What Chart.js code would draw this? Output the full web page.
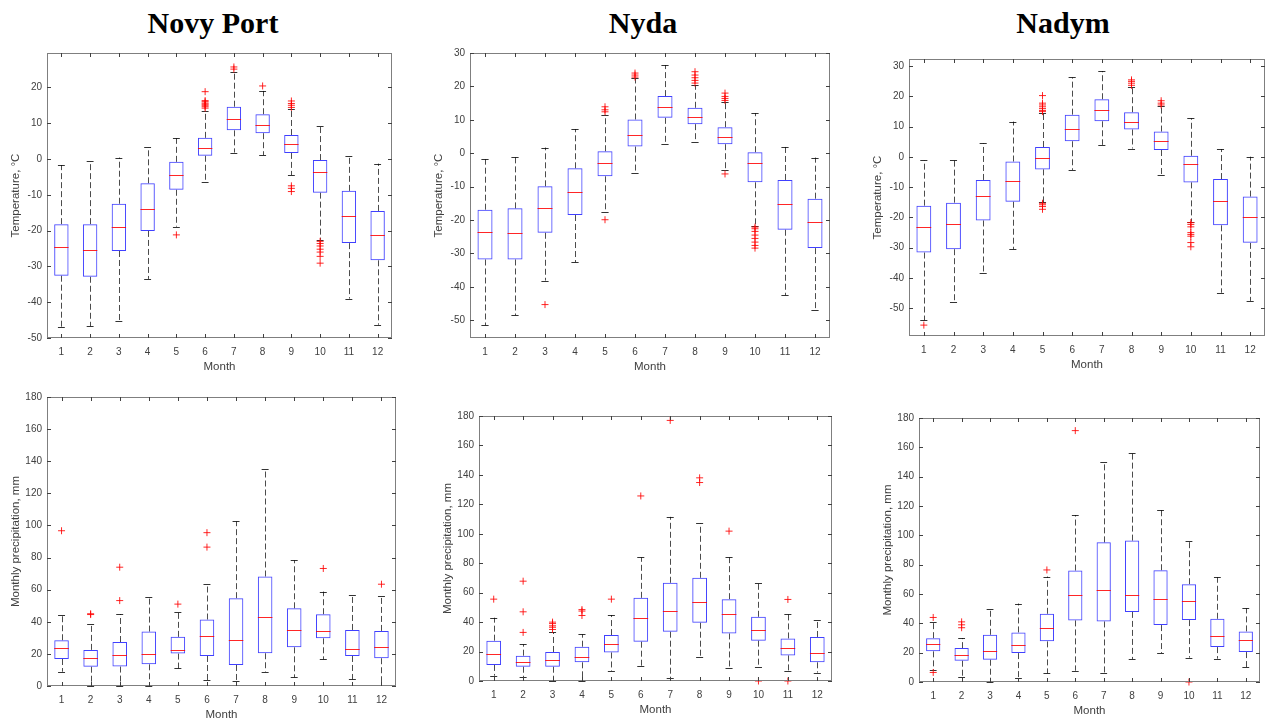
<!DOCTYPE html>
<html>
<head>
<meta charset="utf-8">
<script src="https://cdn.jsdelivr.net/npm/chart.js@4.4.1/dist/chart.umd.min.js"></script>
<style>
    body { margin: 0; background: #fff; width: 1267px; height: 722px; position: relative; overflow: hidden; }
    .titulo { position: absolute; width: 300px; text-align: center; font-family: 'Liberation Serif', 'Times New Roman', serif; font-weight: bold; font-size: 30px; line-height: 34px; color: #000; }
    canvas { position: absolute; }
</style>
</head>
<body>
<div class="titulo" style="left:63px; top:6px;">Novy Port</div>
<div class="titulo" style="left:493px; top:6px;">Nyda</div>
<div class="titulo" style="left:913px; top:6px;">Nadym</div>

<script>
const meses = [1, 2, 3, 4, 5, 6, 7, 8, 9, 10, 11, 12];
const ticksTempNP = [-50, -40, -30, -20, -10, 0, 10, 20];
const ticksTemp = [-50, -40, -30, -20, -10, 0, 10, 20, 30];
const ticksPrec = [0, 20, 40, 60, 80, 100, 120, 140, 160, 180];

// Novy Port - temperatura
const npTempMin = [-47.0, -46.7, -45.2, -33.5, -18.9, -6.3, 1.8, 1.1, -4.5, -22.6, -39.0, -46.3];
const npTempQ1  = [-32.6, -32.9, -25.7, -20.1, -8.6, 0.9, 8.0, 7.2, 1.7, -9.4, -23.5, -28.3];
const npTempMed = [-24.7, -25.5, -18.9, -13.9, -4.5, 3.0, 11.2, 9.5, 4.2, -3.7, -15.9, -21.2];
const npTempQ3  = [-18.2, -18.2, -12.5, -6.8, -0.8, 5.9, 14.6, 12.5, 6.7, -0.3, -8.9, -14.5];
const npTempMax = [-1.7, -0.6, 0.4, 3.3, 5.8, 13.5, 24.3, 19.0, 14.0, 9.1, 0.9, -1.3];
const npTempAtip = [[5, -21.2], [6, 14.2], [6, 14.6], [6, 15.0], [6, 15.3], [6, 15.6], [6, 16.0], [6, 16.3], [6, 18.8],
    [7, 25.1], [7, 25.7], [8, 20.4], [9, 14.4], [9, 15.0], [9, 15.5], [9, 16.2], [9, -7.5], [9, -8.2], [9, -9.1],
    [10, -23.0], [10, -23.6], [10, -24.3], [10, -25.2], [10, -26.0], [10, -27.2], [10, -29.1]];

// Nyda - temperatura
const nyTempMin = [-51.5, -48.5, -38.1, -32.6, -17.6, -6.0, 2.7, 3.4, -5.0, -21.9, -42.5, -47.0];
const nyTempQ1  = [-31.8, -31.8, -23.8, -18.5, -6.9, 2.0, 10.6, 8.7, 2.7, -8.7, -22.9, -28.4];
const nyTempMed = [-23.6, -23.9, -16.4, -11.5, -2.8, 5.5, 13.9, 10.9, 5.0, -2.8, -15.1, -20.7];
const nyTempQ3  = [-16.9, -16.5, -9.9, -4.5, 0.6, 10.1, 17.1, 13.6, 7.8, 0.3, -8.0, -13.6];
const nyTempMax = [-1.8, -1.0, 1.7, 7.2, 11.5, 22.4, 26.4, 20.4, 15.4, 12.0, 2.0, -1.3];
const nyTempAtip = [[3, -45.3], [5, -19.9], [5, 12.4], [5, 13.0], [5, 13.9], [6, 22.8], [6, 23.4], [6, 24.0],
    [8, 21.0], [8, 21.8], [8, 22.6], [8, 23.4], [8, 24.4], [9, -6.2], [9, 15.8], [9, 16.4], [9, 17.0], [9, 18.0],
    [10, -22.1], [10, -22.6], [10, -23.4], [10, -24.5], [10, -25.5], [10, -26.6], [10, -27.6], [10, -28.4]];

// Nadym - temperatura
const naTempMin = [-54.0, -47.9, -38.5, -30.5, -15.0, -4.3, 4.0, 2.8, -5.8, -21.4, -44.9, -47.6];
const naTempQ1  = [-31.6, -30.5, -21.0, -14.8, -4.1, 5.2, 11.8, 9.1, 2.3, -8.4, -22.6, -28.4];
const naTempMed = [-23.1, -22.2, -12.9, -7.8, -0.4, 9.3, 15.6, 11.6, 5.4, -2.4, -14.6, -20.0];
const naTempQ3  = [-16.1, -15.1, -7.6, -1.5, 3.3, 14.0, 19.1, 14.8, 8.4, 0.4, -7.3, -13.1];
const naTempMax = [-1.1, -1.1, 4.5, 11.7, 14.5, 26.3, 28.4, 23.1, 16.9, 12.8, 2.6, 0.1];
const naTempAtip = [[1, -55.6], [5, -15.3], [5, -15.8], [5, -16.4], [5, -17.3], [5, 15.0], [5, 15.4], [5, 16.0],
    [5, 16.6], [5, 17.2], [5, 17.8], [5, 20.3], [8, 23.7], [8, 24.4], [8, 25.0], [8, 25.5], [9, 17.2], [9, 17.8],
    [9, 18.6], [10, -21.7], [10, -22.3], [10, -23.1], [10, -25.0], [10, -25.6], [10, -26.2], [10, -28.3], [10, -29.7]];

// Novy Port - precipitacion
const npPrecMin = [8.9, 0, 0, 0, 11.0, 3.7, 3.3, 8.9, 5.4, 16.6, 4.2, 0.6];
const npPrecQ1  = [16.8, 12.0, 12.1, 13.5, 20.2, 18.7, 13.1, 20.4, 24.1, 29.7, 18.7, 17.3];
const npPrecMed = [23.9, 17.5, 19.1, 19.8, 22.7, 31.2, 28.7, 42.8, 34.9, 34.5, 22.9, 24.5];
const npPrecQ3  = [28.5, 22.5, 27.4, 33.9, 30.6, 41.4, 54.7, 68.2, 48.4, 44.7, 34.9, 34.3];
const npPrecMax = [44.3, 38.9, 44.7, 55.5, 46.4, 63.4, 102.5, 135.3, 78.2, 58.8, 56.8, 56.1];
const npPrecAtip = [[1, 96.7], [2, 44.5], [2, 45.0], [3, 53.2], [3, 74.0], [5, 51.0], [6, 86.5], [6, 95.5], [10, 73.2], [12, 63.4]];

// Nyda - precipitacion
const nyPrecMin = [3.6, 2.7, 0, 0, 6.8, 10.4, 2.3, 16.3, 8.6, 9.7, 7.0, 5.7];
const nyPrecQ1  = [10.9, 9.7, 9.7, 12.7, 19.4, 26.7, 33.5, 39.6, 32.3, 27.4, 17.4, 12.7];
const nyPrecMed = [18.1, 12.7, 14.0, 16.3, 25.1, 42.7, 47.7, 53.8, 45.2, 34.6, 22.6, 18.8];
const nyPrecQ3  = [27.4, 17.2, 19.7, 23.3, 31.2, 56.5, 66.7, 70.1, 55.6, 43.6, 28.9, 29.9];
const nyPrecMax = [43.0, 24.9, 33.0, 31.7, 44.8, 83.9, 111.5, 107.0, 83.9, 66.7, 45.2, 41.6];
const nyPrecAtip = [[1, 55.6], [2, 33.0], [2, 47.0], [2, 67.8], [3, 35.0], [3, 36.5], [3, 37.5], [3, 39.0], [3, 40.0],
    [4, 44.5], [4, 47.5], [4, 48.5], [5, 55.6], [6, 125.7], [7, 177.0], [8, 134.8], [8, 138.0], [9, 101.8],
    [10, 0], [11, 55.4], [11, 0]];

// Nadym - precipitacion
const naPrecMin = [8.0, 3.6, 0, 2.7, 5.9, 7.7, 6.1, 15.6, 19.7, 16.6, 15.9, 10.0];
const naPrecQ1  = [20.9, 14.5, 15.2, 19.7, 27.7, 42.0, 41.3, 47.8, 38.8, 42.2, 23.8, 20.4];
const naPrecMed = [25.9, 18.4, 21.3, 25.4, 36.7, 59.4, 63.0, 59.4, 56.9, 54.9, 31.7, 28.3];
const naPrecQ3  = [29.9, 23.1, 32.2, 33.8, 46.5, 76.0, 95.2, 96.4, 76.2, 66.7, 43.1, 34.5];
const naPrecMax = [40.6, 29.9, 49.7, 53.5, 71.9, 113.8, 150.1, 156.2, 117.5, 96.4, 71.4, 50.3];
const naPrecAtip = [[1, 44.0], [1, 6.5], [2, 37.0], [2, 39.0], [2, 41.0], [5, 76.4], [6, 171.4], [10, 0]];

const fuente = "'Liberation Sans', Arial, sans-serif";
const colorTexto = '#404040';

// bigotes, medianas, marco y marcas hacia dentro
const pluginCajas = {
    id: 'cajas',
    beforeDatasetsDraw(chart, args, opts) {
        const { ctx, scales: { x, y } } = chart;
        ctx.save();
        ctx.lineWidth = 1;
        meses.forEach((m, i) => {
            const px = Math.round(x.getPixelForValue(m)) + 0.5;
            ctx.strokeStyle = 'rgba(0,0,0,0.7)';
            ctx.setLineDash([6, 3]);
            ctx.beginPath();
            ctx.moveTo(px, y.getPixelForValue(opts.q3[i]));
            ctx.lineTo(px, y.getPixelForValue(opts.max[i]));
            ctx.moveTo(px, y.getPixelForValue(opts.q1[i]));
            ctx.lineTo(px, y.getPixelForValue(opts.min[i]));
            ctx.stroke();
            ctx.setLineDash([]);
            ctx.strokeStyle = 'rgba(0,0,0,0.8)';
            const c1 = x.getPixelForValue(m - 0.12), c2 = x.getPixelForValue(m + 0.12);
            ctx.beginPath();
            [opts.min[i], opts.max[i]].forEach(v => {
                const py = Math.round(y.getPixelForValue(v)) + 0.5;
                ctx.moveTo(c1, py);
                ctx.lineTo(c2, py);
            });
            ctx.stroke();
        });
        ctx.restore();
    },
    afterDatasetsDraw(chart, args, opts) {
        const { ctx, chartArea: a, scales: { x, y } } = chart;
        ctx.save();
        ctx.lineWidth = 1;
        ctx.strokeStyle = 'rgba(255,0,0,0.85)';
        ctx.beginPath();
        meses.forEach((m, i) => {
            const py = Math.round(y.getPixelForValue(opts.med[i])) + 0.5;
            ctx.moveTo(x.getPixelForValue(m - 0.25), py);
            ctx.lineTo(x.getPixelForValue(m + 0.25), py);
        });
        ctx.stroke();

        ctx.strokeStyle = '#7f7f7f';
        ctx.strokeRect(Math.round(a.left) + 0.5, Math.round(a.top) + 0.5, Math.round(a.right - a.left) - 1, Math.round(a.bottom - a.top) - 1);
        ctx.strokeStyle = '#404040';
        ctx.beginPath();
        x.ticks.forEach(t => {
            const px = Math.round(x.getPixelForValue(t.value)) + 0.5;
            ctx.moveTo(px, a.bottom); ctx.lineTo(px, a.bottom - 4);
            ctx.moveTo(px, a.top); ctx.lineTo(px, a.top + 4);
        });
        y.ticks.forEach(t => {
            const py = Math.round(y.getPixelForValue(t.value)) + 0.5;
            ctx.moveTo(a.left, py); ctx.lineTo(a.left + 4, py);
            ctx.moveTo(a.right, py); ctx.lineTo(a.right - 4, py);
        });
        ctx.stroke();
        ctx.restore();
    }
};

function crearPanel(area, estad, atipicos, yMin, yMax, marcasY, tituloY) {
    const lienzo = document.createElement('canvas');
    const izq = area.left - 48, arriba = area.top - 12;
    const ancho = area.width + 48 + 6, alto = area.height + 12 + 36;
    lienzo.width = ancho;
    lienzo.height = alto;
    lienzo.style.left = izq + 'px';
    lienzo.style.top = arriba + 'px';
    document.body.appendChild(lienzo);

    return new Chart(lienzo.getContext('2d'), {
        type: 'bar',
        data: {
            datasets: [{
                type: 'bar',
                data: meses.map((m, i) => ({ x: m, y: [estad.q1[i], estad.q3[i]] })),
                backgroundColor: 'rgba(0,0,0,0)',
                borderColor: 'rgba(0,0,255,0.75)',
                borderWidth: 1,
                borderSkipped: false,
                barPercentage: 0.5,
                categoryPercentage: 1
            }, {
                type: 'scatter',
                data: atipicos.map(p => ({ x: p[0], y: p[1] })),
                pointStyle: 'cross',
                pointRadius: 3.5,
                borderColor: 'rgba(255,0,0,0.85)',
                backgroundColor: 'rgba(255,0,0,0.85)',
                borderWidth: 1,
                clip: false
            }]
        },
        options: {
            responsive: false,
            animation: false,
            devicePixelRatio: 1,
            layout: { padding: { left: 10, top: 12, right: 6, bottom: 0 } },
            plugins: {
                legend: { display: false },
                tooltip: { enabled: false },
                cajas: estad
            },
            scales: {
                x: {
                    type: 'linear', min: 0.5, max: 12.5, offset: false,
                    grid: { display: false, drawTicks: false },
                    border: { display: false },
                    afterBuildTicks: s => { s.ticks = meses.map(v => ({ value: v })); },
                    afterFit: s => { s.height = 36; },
                    ticks: { padding: 8, color: colorTexto, font: { family: fuente, size: 10 } },
                    title: { display: true, text: 'Month', color: colorTexto, padding: { top: 0, bottom: 0 }, font: { family: fuente, size: 11.5 } }
                },
                y: {
                    type: 'linear', min: yMin, max: yMax,
                    grid: { display: false, drawTicks: false },
                    border: { display: false },
                    afterBuildTicks: s => { s.ticks = marcasY.map(v => ({ value: v })); },
                    afterFit: s => { s.width = 38; },
                    ticks: { padding: 5, color: colorTexto, font: { family: fuente, size: 10 } },
                    title: { display: true, text: tituloY, color: colorTexto, padding: { top: 0, bottom: 0 }, font: { family: fuente, size: 11.5 } }
                }
            }
        },
        plugins: [pluginCajas]
    });
}

const tituloTemp = 'Temperature, °C';
const tituloPrec = 'Monthly precipitation, mm';

crearPanel({ left: 47, top: 53, width: 345, height: 285 },
    { min: npTempMin, q1: npTempQ1, med: npTempMed, q3: npTempQ3, max: npTempMax }, npTempAtip, -50, 29.6, ticksTempNP, tituloTemp);
crearPanel({ left: 470, top: 53, width: 360, height: 285 },
    { min: nyTempMin, q1: nyTempQ1, med: nyTempMed, q3: nyTempQ3, max: nyTempMax }, nyTempAtip, -55.3, 30, ticksTemp, tituloTemp);
crearPanel({ left: 909, top: 59, width: 356, height: 277 },
    { min: naTempMin, q1: naTempQ1, med: naTempMed, q3: naTempQ3, max: naTempMax }, naTempAtip, -59.2, 32.4, ticksTemp, tituloTemp);
crearPanel({ left: 47, top: 397, width: 349, height: 289 },
    { min: npPrecMin, q1: npPrecQ1, med: npPrecMed, q3: npPrecQ3, max: npPrecMax }, npPrecAtip, 0, 180, ticksPrec, tituloPrec);
crearPanel({ left: 479, top: 416, width: 353, height: 265 },
    { min: nyPrecMin, q1: nyPrecQ1, med: nyPrecMed, q3: nyPrecQ3, max: nyPrecMax }, nyPrecAtip, 0, 180, ticksPrec, tituloPrec);
crearPanel({ left: 919, top: 418, width: 341, height: 264 },
    { min: naPrecMin, q1: naPrecQ1, med: naPrecMed, q3: naPrecQ3, max: naPrecMax }, naPrecAtip, 0, 180, ticksPrec, tituloPrec);
</script>
</body>
</html>
